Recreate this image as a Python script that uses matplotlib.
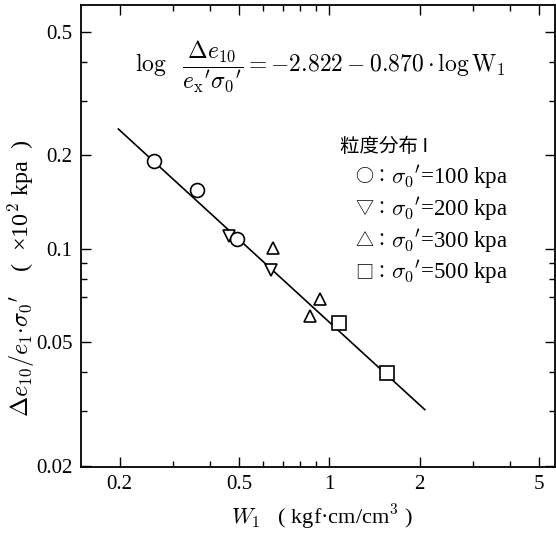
import matplotlib
matplotlib.use("Agg")
import matplotlib.pyplot as plt
from matplotlib.ticker import FixedLocator, NullFormatter

plt.rcParams['font.family'] = ['Liberation Serif', 'Noto Sans CJK JP', 'DejaVu Sans']
plt.rcParams['mathtext.fontset'] = 'cm'

# data
w_100 = [0.260, 0.361, 0.491]
y_100 = [0.192, 0.1545, 0.1077]
w_200 = [0.461, 0.638]
y_200 = [0.110, 0.0852]
w_300 = [0.651, 0.928, 0.862]
y_300 = [0.1004, 0.0691, 0.0605]
w_500 = [1.077, 1.561]
y_500 = [0.0575, 0.0398]
fit_w = [0.198, 2.08]
fit_y = [0.243, 0.0303]

xticks = [0.2, 0.5, 1, 2, 5]
xtick_labels = ['0.2', '0.5', '1', '2', '5']
xminor = [0.3, 0.4, 0.6, 0.7, 0.8, 0.9, 3, 4]
yticks = [0.02, 0.05, 0.1, 0.2, 0.5]
ytick_labels = ['0.02', '0.05', '0.1', '0.2', '0.5']
yminor = [0.03, 0.04, 0.07, 0.08, 0.09, 0.3, 0.4]

fig = plt.figure(figsize=(5.56, 5.33), dpi=100)
W, H = 556, 533
ax = fig.add_axes([81 / W, (H - 467) / H, (555 - 81) / W, (467 - 5) / H])
ax.set_xscale('log')
ax.set_yscale('log')
ax.set_xlim(0.1486, 5.65)
ax.set_ylim(0.0198, 0.61)

ax.plot(fit_w, fit_y, color='black', lw=1.2, zorder=1)
mk = dict(linestyle='none', markerfacecolor='white', markeredgecolor='black',
          markeredgewidth=1.2, zorder=3)
ax.plot(w_200, y_200, marker='v', markersize=9, **mk)
ax.plot(w_100, y_100, marker='o', markersize=10, **mk)
ax.plot(w_300, y_300, marker='^', markersize=9, **mk)
ax.plot(w_500, y_500, marker='s', markersize=9.5, **mk)

ax.xaxis.set_major_locator(FixedLocator(xticks))
ax.set_xticklabels(xtick_labels)
ax.xaxis.set_minor_locator(FixedLocator(xminor))
ax.xaxis.set_minor_formatter(NullFormatter())
ax.yaxis.set_major_locator(FixedLocator(yticks))
ax.set_yticklabels(ytick_labels)
ax.yaxis.set_minor_locator(FixedLocator(yminor))
ax.yaxis.set_minor_formatter(NullFormatter())
ax.tick_params(which='both', direction='in', top=True, right=True, labelsize=15, width=1.0)
ax.tick_params(which='major', length=7, pad=6)
ax.tick_params(which='minor', length=4.5)
for s in ax.spines.values():
    s.set_linewidth(1.3)

fig.text(135 / W, 1 - 66 / H,
         r"$\log\ \ \dfrac{\mathit{\Delta} e_{10}}{e_{\rm x}{'}\sigma_0{'}} = -2.822-0.870\cdot\log\mathrm{W}_1$",
         fontsize=17, ha='left', va='center')

fig.text(340 / W, 1 - 147 / H, '粒度分布 I', fontsize=14, ha='left', va='center',
         family=['Noto Sans CJK JP', 'DejaVu Sans'])
leg_sym = ['○', '▽', '△', '□']
leg_val = ['100', '200', '300', '500']
leg_y = [177, 209, 241, 272]
for s, v, yy in zip(leg_sym, leg_val, leg_y):
    fig.text(355 / W, 1 - yy / H, s + '：', fontsize=13, ha='left', va='center',
             family=['Noto Sans CJK JP', 'DejaVu Sans'])
    fig.text(391 / W, 1 - yy / H, r"$\sigma_0{'}$=" + v + ' kpa', fontsize=16.5,
             ha='left', va='center')

fig.text(21 / W, 1 - 278 / H,
         r"$\mathit{\Delta} e_{10}/e_1{\cdot}\sigma_0{'}$    (  ×10$^2$ kpa  )",
         fontsize=17.5, rotation=90, ha='center', va='center')
fig.text(322 / W, 1 - 517 / H, r"$W_1$   ( kgf·cm/cm$^3$ )", fontsize=16,
         ha='center', va='center')

fig.savefig('out.png', dpi=100)
